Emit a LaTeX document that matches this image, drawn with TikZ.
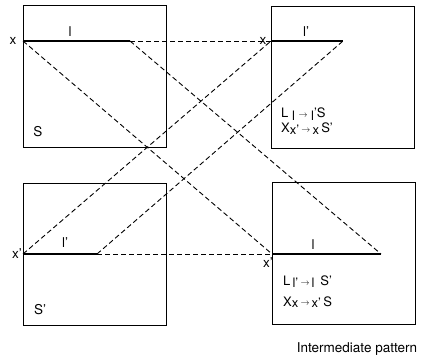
\documentclass[tikz,border=0pt]{standalone}
\usepackage{fontspec}
\setmainfont{TeX Gyre Heros}
\newcommand{\arr}{\raisebox{0.3ex}{\scalebox{0.75}{$\rightarrow$}}}
\begin{document}
\begin{tikzpicture}[x=1pt,y=-1pt,
  box/.style={draw,line width=1.3pt,inner sep=0pt,minimum width=143pt,minimum height=142pt,anchor=north west},
  seg/.style={line width=1.3pt},
  dline/.style={dash pattern=on 5pt off 3pt,line width=0.9pt},
  lab/.style={font=\fontsize{13.5}{15}\selectfont,inner sep=0pt},
  tlab/.style={font=\fontsize{13}{14}\selectfont,inner sep=0pt,anchor=base west},
  captxt/.style={font=\fontsize{13.5}{15}\selectfont,inner sep=0pt}]
\useasboundingbox (0,0) rectangle (436,355);
% boxes
\node[box] (A) at (23,5) {};
\node[box] (B) at (271,6) {};
\node[box] (C) at (23,183) {};
\node[box] (D) at (272,182) {};
% end points
\coordinate (ax) at (23,41);   \coordinate (ae) at (130,41);
\coordinate (bx) at (271,41);  \coordinate (be) at (343,41);
\coordinate (cx) at (23,254);  \coordinate (ce) at (97,254);
\coordinate (dx) at (272,254); \coordinate (de) at (381,254);
% solid segments
\draw[seg] (ax) -- (ae);
\draw[seg] (bx) -- (be);
\draw[seg] (cx) -- (ce);
\draw[seg] (dx) -- (de);
% dashed connectors
\draw[dline] (ae) -- (bx);
\draw[dline] (ce) -- (dx);
\draw[dline] (ax) -- (dx);
\draw[dline] (ae) -- (de);
\draw[dline] (cx) -- (bx);
\draw[dline] (ce) -- (be);
% labels
\node[lab] (la) at (13,41) {x};
\node[lab] (lb) at (70,32) {l};
\node[lab] (lc) at (38,132) {S};
\node[lab] (ld) at (263,41) {x};
\node[lab] (le) at (306,32) {l’};
\node[lab] (lf) at (17,254) {x’};
\node[lab] (lg) at (65,243) {l’};
\node[lab] (lh) at (40,310) {S’};
\node[lab] (li) at (268,263) {x’};
\node[lab] (lj) at (313,245) {l};
\node[tlab] (t1) at (281,118) {L\raisebox{-0.3ex}{\;l\;\arr\;l}’S};
\node[tlab] (t2) at (281,133) {X\raisebox{-0.25ex}{x’\,\arr\,x}\,S’};
\node[tlab] (t3) at (283,285) {L\raisebox{-0.4ex}{\,l’\,\arr\,l}\;\,S’};
\node[tlab] (t4) at (283,306) {X\raisebox{-0.25ex}{x\,\arr\,x’}\,S};
\node[captxt] (cp) at (357,349) {Intermediate pattern};
\end{tikzpicture}
\end{document}
